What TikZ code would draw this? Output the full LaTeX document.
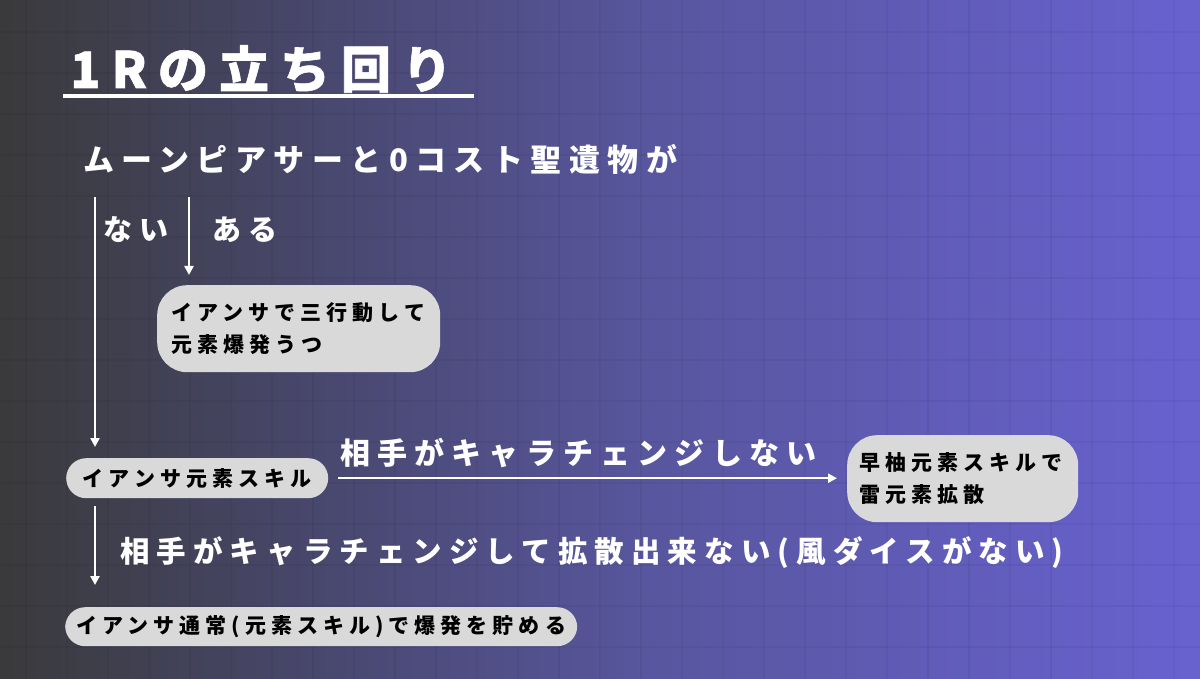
\documentclass[tikz,border=0pt]{standalone}
\usepackage{fontspec}
\newfontfamily\jp{Noto Sans CJK JP}[LetterSpace=24]
\newfontfamily\jptitle{Noto Sans CJK JP}[LetterSpace=22, BoldFeatures={FakeBold=1.2}]
\usetikzlibrary{arrows.meta}
\definecolor{bgA}{RGB}{58,58,60}
\definecolor{bgB}{RGB}{72,71,108}
\definecolor{bgC}{RGB}{88,86,158}
\definecolor{bgD}{RGB}{104,98,208}
\definecolor{boxgray}{RGB}{217,217,217}
\pgfdeclarehorizontalshading{bgshade}{100bp}{color(0bp)=(bgA); color(25bp)=(bgA); color(38bp)=(bgB); color(52bp)=(bgC); color(75bp)=(bgD); color(100bp)=(bgD)}
\tikzset{
  gridline/.style={black, opacity=0.045, line width=1.5pt},
  whitelabel/.style={text=white, inner sep=0pt, anchor=west, font={\jp\bfseries\fontsize{#1}{#1}\selectfont}},
  whitelabel/.default=30,
  graybox/.style={fill=boxgray, draw=none, text=black, inner sep=0pt, font={\jp\bfseries\fontsize{21}{32}\selectfont}},
  arr/.style={draw=white, line width=2.4pt, -{Triangle[length=9pt,width=9pt]}},
}
\begin{document}
\begin{tikzpicture}[x=1pt,y=-1pt]
\useasboundingbox (0,0) rectangle (1200,679);
\fill[shading=bgshade] (0,0) rectangle (1200,679);
\foreach \x in {26,67,...,1200} \draw[gridline] (\x,0) -- (\x,679);
\foreach \y in {32,73,...,679} \draw[gridline] (0,\y) -- (1200,\y);

% title
\node[text=white, inner sep=0pt, anchor=west, font={\jptitle\bfseries\fontsize{50}{50}\selectfont}] (title) at (70,69) {1Rの立ち回り};
\draw[white, line width=4.5pt] (63,96) -- (474,96);

% question
\node[whitelabel=31] (q) at (83,159) {ムーンピアサーと0コスト聖遺物が};
\coordinate (s1) at (95,197);
\coordinate (s2) at (189,197);
\node[whitelabel=29] (nai) at (103,230) {ない};
\node[whitelabel=29] (aru) at (212,230) {ある};

% boxes
\node[graybox, rounded corners=30pt, minimum width=283pt, minimum height=87pt,
      text width=255pt, align=left, anchor=north west] (box1) at (157,285)
      {イアンサで三行動して\\元素爆発うつ};
\node[graybox, rounded corners=20pt, minimum width=262pt, minimum height=40pt,
      anchor=north west] (skill) at (66,458) {イアンサ元素スキル};
\node[graybox, rounded corners=30pt, minimum width=231pt, minimum height=87pt,
      text width=207pt, align=left, anchor=north west] (box2) at (847,435)
      {早柚元素スキルで\\雷元素拡散};
\node[graybox, rounded corners=20pt, minimum width=512pt, minimum height=39pt,
      anchor=north west] (normal) at (65,607) {イアンサ通常(元素スキル)で爆発を貯める};

% labels
\node[whitelabel=30] (l1) at (340,453) {相手がキャラチェンジしない};
\node[whitelabel=29.5] (l2) at (120,553) {相手がキャラチェンジして拡散出来ない(風ダイスがない)};

% connectors
\draw[arr] (s1) -- ([yshift=11pt]skill.north -| s1);
\draw[arr] (s2) -- ([yshift=10pt]box1.north -| s2);
\draw[arr, shorten <=10pt, shorten >=10pt] (skill.east) -- (skill.east -| box2.west);
\draw[arr, shorten <=8pt, shorten >=22pt] (skill.south -| s1) -- (normal.north -| s1);
\end{tikzpicture}
\end{document}
